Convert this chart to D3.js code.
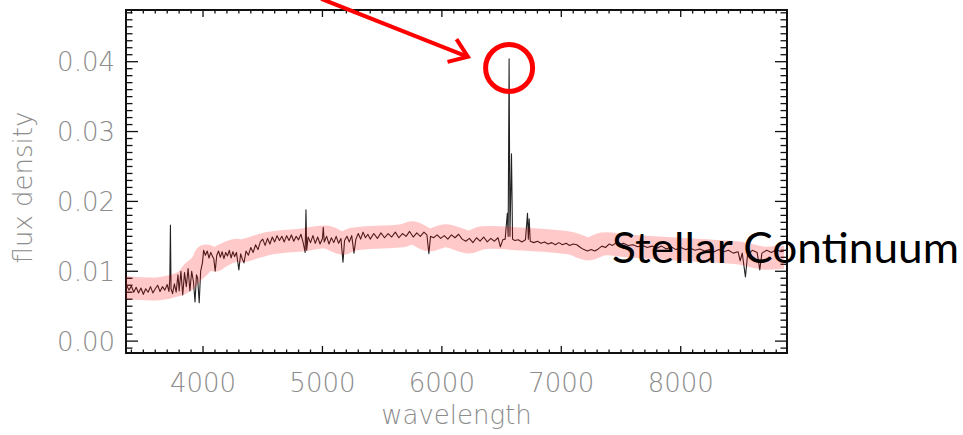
<!DOCTYPE html>
<html>
<head>
<meta charset="utf-8">
<script src="https://cdn.jsdelivr.net/npm/d3@7"></script>
<style>
  body { margin: 0; background: #fff; }
</style>
</head>
<body>
<div id="canvas"></div>
<script>
"use strict"

/* Data */

// spectrum: wavelength (A) and flux density
let wave = [3360, 3380, 3400, 3420, 3440, 3460, 3480, 3500, 3520, 3540, 3560, 3580, 3600, 3620, 3640, 3660, 3680, 3700, 3715, 3722,
    3727, 3732, 3745, 3760, 3775, 3790, 3800, 3815, 3830, 3845, 3860, 3875, 3890, 3905, 3920, 3933, 3945, 3955, 3968, 3980,
    3995, 4005, 4020, 4035, 4050, 4065, 4080, 4090, 4102, 4115, 4130, 4145, 4160, 4175, 4190, 4205, 4220, 4235, 4250, 4265,
    4280, 4300, 4315, 4330, 4343, 4360, 4380, 4400, 4420, 4440, 4460, 4480, 4500, 4520, 4540, 4560, 4580, 4600, 4620, 4640,
    4660, 4680, 4700, 4720, 4740, 4760, 4780, 4800, 4820, 4840, 4855, 4862, 4868, 4880, 4900, 4920, 4940, 4960, 4980, 5000,
    5007, 5015, 5035, 5055, 5075, 5095, 5115, 5135, 5155, 5172, 5185, 5205, 5225, 5245, 5264, 5280, 5300, 5320, 5340, 5360,
    5380, 5400, 5430, 5460, 5490, 5520, 5550, 5580, 5610, 5640, 5670, 5700, 5730, 5760, 5790, 5820, 5850, 5875, 5891, 5905,
    5930, 5960, 5990, 6020, 6050, 6080, 6110, 6140, 6170, 6200, 6230, 6260, 6290, 6320, 6350, 6380, 6410, 6440, 6470, 6490,
    6510, 6530, 6548, 6555, 6563, 6570, 6583, 6592, 6610, 6640, 6670, 6700, 6717, 6724, 6731, 6740, 6770, 6800, 6830, 6860,
    6890, 6920, 6950, 6980, 7010, 7040, 7070, 7100, 7130, 7160, 7190, 7220, 7250, 7280, 7310, 7340, 7370, 7400, 7430, 7460,
    7490, 7520, 7560, 7600, 7640, 7680, 7720, 7760, 7800, 7840, 7880, 7920, 7960, 8000, 8040, 8080, 8120, 8160, 8200, 8240,
    8280, 8320, 8360, 8400, 8440, 8480, 8498, 8515, 8542, 8560, 8600, 8640, 8662, 8680, 8720, 8760, 8800, 8840, 8880];

let flux = [0.0080, 0.0073, 0.0079, 0.0070, 0.0077, 0.0069, 0.0076, 0.0067, 0.0075, 0.0070, 0.0078, 0.0069, 0.0075, 0.0080, 0.0071, 0.0078, 0.0073, 0.0081, 0.0071, 0.0090,
    0.0166, 0.0075, 0.0068, 0.0082, 0.0070, 0.0095, 0.0072, 0.0100, 0.0066, 0.0098, 0.0078, 0.0104, 0.0072, 0.0100, 0.0085, 0.0056, 0.0095, 0.0090, 0.0055, 0.0100,
    0.0112, 0.0130, 0.0123, 0.0129, 0.0119, 0.0127, 0.0121, 0.0118, 0.0100, 0.0123, 0.0129, 0.0120, 0.0128, 0.0118, 0.0127, 0.0122, 0.0130, 0.0119, 0.0128, 0.0121,
    0.0127, 0.0102, 0.0125, 0.0117, 0.0112, 0.0129, 0.0123, 0.0134, 0.0127, 0.0138, 0.0131, 0.0142, 0.0146, 0.0137, 0.0147, 0.0139, 0.0149, 0.0142, 0.0151, 0.0144,
    0.0150, 0.0142, 0.0151, 0.0144, 0.0152, 0.0143, 0.0150, 0.0145, 0.0153, 0.0140, 0.0127, 0.0188, 0.0130, 0.0149, 0.0141, 0.0151, 0.0140, 0.0149, 0.0139, 0.0147,
    0.0163, 0.0142, 0.0150, 0.0139, 0.0148, 0.0141, 0.0150, 0.0140, 0.0147, 0.0113, 0.0144, 0.0150, 0.0142, 0.0151, 0.0126, 0.0146, 0.0154, 0.0146, 0.0156, 0.0148,
    0.0153, 0.0146, 0.0154, 0.0147, 0.0155, 0.0148, 0.0154, 0.0149, 0.0156, 0.0148, 0.0154, 0.0150, 0.0157, 0.0149, 0.0155, 0.0150, 0.0156, 0.0152, 0.0125, 0.0150,
    0.0148, 0.0152, 0.0147, 0.0151, 0.0146, 0.0152, 0.0148, 0.0153, 0.0146, 0.0143, 0.0147, 0.0141, 0.0148, 0.0143, 0.0149, 0.0142, 0.0147, 0.0143, 0.0148, 0.0135,
    0.0145, 0.0146, 0.0183, 0.0150, 0.0404, 0.0150, 0.0268, 0.0146, 0.0144, 0.0145, 0.0142, 0.0145, 0.0183, 0.0146, 0.0175, 0.0143, 0.0141, 0.0143, 0.0140, 0.0142,
    0.0139, 0.0141, 0.0138, 0.0141, 0.0138, 0.0140, 0.0137, 0.0139, 0.0138, 0.0134, 0.0131, 0.0129, 0.0131, 0.0129, 0.0132, 0.0136, 0.0134, 0.0139, 0.0137, 0.0141,
    0.0138, 0.0140, 0.0137, 0.0138, 0.0135, 0.0137, 0.0134, 0.0136, 0.0133, 0.0136, 0.0132, 0.0135, 0.0131, 0.0134, 0.0131, 0.0133, 0.0130, 0.0132, 0.0129, 0.0131,
    0.0128, 0.0131, 0.0128, 0.0130, 0.0126, 0.0128, 0.0115, 0.0126, 0.0092, 0.0124, 0.0130, 0.0127, 0.0102, 0.0126, 0.0130, 0.0127, 0.0131, 0.0128, 0.0130];

// hand-drawn stellar continuum band
let contWave = [3300, 3632, 3774, 3858, 3916, 3958, 4000, 4025, 4100, 4134, 4276, 4318, 4552, 4837, 5029, 5172, 5238, 5364, 5674, 5757,
    5891, 6033, 6226, 6343, 6678, 7079, 7230, 7347, 7573, 8134, 8494, 8686, 8850];
let contFlux = [0.0077, 0.0075, 0.0080, 0.0087, 0.0099, 0.0105, 0.0113, 0.0122, 0.0116, 0.0120, 0.0130, 0.0129, 0.0140, 0.0145, 0.0149, 0.0140, 0.0145, 0.0148, 0.0151, 0.0155,
    0.0145, 0.0151, 0.0142, 0.0148, 0.0146, 0.0140, 0.0132, 0.0139, 0.0136, 0.0130, 0.0126, 0.0119, 0.0120];

let xTicks = [4000, 5000, 6000, 7000, 8000];
let yTicks = [0.00, 0.01, 0.02, 0.03, 0.04];

/* Configuration: drawing */
let svgWidth = 963;
let svgHeight = 435;
let plotLeft = 126, plotRight = 787, plotTop = 10, plotBottom = 353;
let tickFont = "'DejaVu Sans', sans-serif";
let grey = "#8c8c8c";

let svg = d3.select("#canvas")
    .append("svg")
    .attr("width", svgWidth)
    .attr("height", svgHeight);

svg.append("clipPath")
    .attr("id", "plotClip")
    .append("rect")
    .attr("x", plotLeft)
    .attr("y", plotTop)
    .attr("width", plotRight - plotLeft - 3)
    .attr("height", plotBottom - plotTop);

/* Scales */
let xScale = d3.scaleLinear()
    .domain([3355, 8890])
    .range([plotLeft, plotRight]);

let yScale = d3.scaleLinear()
    .domain([-0.0017, 0.0474])
    .range([plotBottom, plotTop]);

let xMinor = d3.range(3400, 8900, 100);
let yMinor = d3.range(-1, 48).map(d => d / 1000);

/* Ticks: all four sides, pointing inward */
let tickColor = "#111";
// bottom and top
[[plotBottom, -1], [plotTop, 1]].forEach(function (side) {
    svg.append("g").selectAll("line")
        .data(xMinor)
        .join("line")
        .attr("x1", d => xScale(d))
        .attr("x2", d => xScale(d))
        .attr("y1", side[0])
        .attr("y2", d => side[0] + side[1] * (d % 1000 === 0 ? 7 : 3.5))
        .attr("stroke", tickColor)
        .attr("stroke-width", 1.3);
});
// left and right
[[plotLeft, 1], [plotRight, -1]].forEach(function (side) {
    svg.append("g").selectAll("line")
        .data(yMinor)
        .join("line")
        .attr("y1", d => yScale(d))
        .attr("y2", d => yScale(d))
        .attr("x1", side[0])
        .attr("x2", d => side[0] + side[1] * (Math.round(d * 1000) % 10 === 0 ? 12 : 6.5))
        .attr("stroke", tickColor)
        .attr("stroke-width", 1.3);
});

/* Frame */
svg.append("rect")
    .attr("x", plotLeft)
    .attr("y", plotTop)
    .attr("width", plotRight - plotLeft)
    .attr("height", plotBottom - plotTop)
    .attr("fill", "none")
    .attr("stroke", "#111")
    .attr("stroke-width", 2);

/* Tick labels */
svg.append("g").selectAll("text")
    .data(xTicks)
    .join("text")
    .attr("x", d => xScale(d))
    .attr("y", 392)
    .attr("text-anchor", "middle")
    .attr("font-family", tickFont)
    .attr("font-weight", 200)
    .attr("font-size", 26)
    .attr("fill", grey)
    .text(d => String(d));

svg.append("g").selectAll("text")
    .data(yTicks)
    .join("text")
    .attr("x", 115)
    .attr("y", d => yScale(d) + 9.5)
    .attr("text-anchor", "end")
    .attr("font-family", tickFont)
    .attr("font-weight", 200)
    .attr("font-size", 26)
    .attr("fill", grey)
    .text(d => d.toFixed(2));

/* Axis titles */
svg.append("text")
    .attr("x", (plotLeft + plotRight) / 2)
    .attr("y", 424)
    .attr("text-anchor", "middle")
    .attr("font-family", tickFont)
    .attr("font-weight", 200)
    .attr("font-size", 26)
    .attr("fill", grey)
    .text("wavelength");

svg.append("text")
    .attr("transform", "translate(32," + ((plotTop + plotBottom) / 2 + 6) + ") rotate(-90)")
    .attr("text-anchor", "middle")
    .attr("font-family", tickFont)
    .attr("font-weight", 200)
    .attr("font-size", 26)
    .attr("fill", grey)
    .text("flux density");

/* Spectrum */
let spectrum = wave.map((w, i) => ({ w: w, f: flux[i] }));
let line = d3.line()
    .x(d => xScale(d.w))
    .y(d => yScale(d.f));

svg.append("path")
    .datum(spectrum)
    .attr("d", line)
    .attr("clip-path", "url(#plotClip)")
    .attr("fill", "none")
    .attr("stroke", "#222")
    .attr("stroke-width", 1.1)
    .attr("stroke-linejoin", "round");

/* Continuum band, translucent on top */
let continuum = contWave.map((w, i) => ({ w: w, f: contFlux[i] }));
svg.append("path")
    .datum(continuum)
    .attr("d", line.curve(d3.curveCatmullRom))
    .attr("clip-path", "url(#plotClip)")
    .attr("fill", "none")
    .attr("stroke", "#ff0000")
    .attr("stroke-opacity", 0.21)
    .attr("stroke-width", 23)
    .attr("stroke-linecap", "round")
    .attr("stroke-linejoin", "round");

/* Annotation: circle round the H-alpha peak and an arrow pointing at it */
let peakWave = 6563, peakFlux = 0.0391;
svg.append("circle")
    .attr("cx", xScale(peakWave))
    .attr("cy", yScale(peakFlux))
    .attr("r", 23.5)
    .attr("fill", "none")
    .attr("stroke", "#ff0000")
    .attr("stroke-width", 5);

let arrowFrom = [4990, 0.0490], arrowTo = [6218, 0.0407];
let ax0 = xScale(arrowFrom[0]), ay0 = yScale(arrowFrom[1]);
let ax1 = xScale(arrowTo[0]), ay1 = yScale(arrowTo[1]);
let ang = Math.atan2(ay1 - ay0, ax1 - ax0);
let headLen = 21, headAng = 0.62;
svg.append("line")
    .attr("x1", ax0).attr("y1", ay0)
    .attr("x2", ax1).attr("y2", ay1)
    .attr("stroke", "#ff0000")
    .attr("stroke-width", 4);
svg.append("path")
    .attr("d", "M" + (ax1 - headLen * Math.cos(ang - headAng)) + "," + (ay1 - headLen * Math.sin(ang - headAng)) +
        "L" + ax1 + "," + ay1 +
        "L" + (ax1 - headLen * Math.cos(ang + headAng)) + "," + (ay1 - headLen * Math.sin(ang + headAng)))
    .attr("fill", "none")
    .attr("stroke", "#ff0000")
    .attr("stroke-width", 4)
    .attr("stroke-linejoin", "miter");

/* Label */
svg.append("text")
    .attr("x", 612)
    .attr("y", 263)
    .attr("font-family", "Lato, 'Open Sans', sans-serif")
    .attr("font-size", 43)
    .attr("fill", "#000")
    .attr("textLength", 347)
    .attr("lengthAdjust", "spacingAndGlyphs")
    .text("Stellar Continuum");
</script>
</body>
</html>
